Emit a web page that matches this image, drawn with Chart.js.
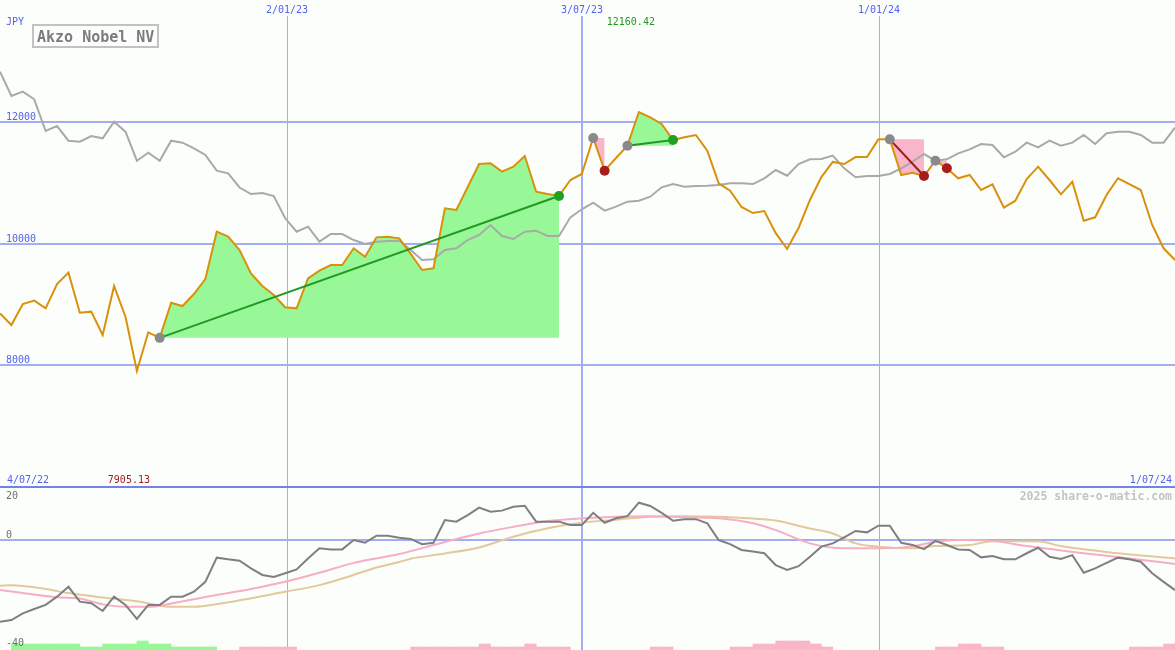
<!DOCTYPE html>
<html>
<head>
<meta charset="utf-8">
<script src="https://cdn.jsdelivr.net/npm/chart.js@4.4.1/dist/chart.umd.min.js"></script>
<style>
html,body{margin:0;padding:0;background:#fcfefc;}
#wrap{position:relative;width:1175px;height:650px;overflow:hidden;background:#fcfefc;}
#top{position:absolute;left:0;top:0;width:1175px;height:487px;}
#bot{position:absolute;left:0;top:487px;width:1175px;height:163px;}
</style>
</head>
<body>
<div id="wrap">
<canvas id="top" width="1175" height="487"></canvas>
<canvas id="bot" width="1175" height="163"></canvas>
</div>
<script>
// ---------- DATA (weekly, index 0..103) ----------
const price = [8853,8661,9006,9061,8935,9335,9521,8863,8880,8497,
  9302,8798,7905,8541,8450,9028,8973,9170,9417,10194,
  10112,9893,9510,9302,9154,8952,8935,9428,9554,9647,
  9647,9921,9783,10101,10112,10085,9830,9565,9593,10578,
  10550,10928,11306,11317,11180,11262,11437,10851,10813,10780,
  11043,11142,11733,11196,11404,11607,12160,12073,11963,11700,
  11745,11782,11525,10989,10867,10600,10500,10534,10170,9910,
  10255,10715,11092,11340,11306,11420,11420,11711,11711,11125,
  11163,11109,11360,11235,11071,11125,10879,10970,10589,10703,
  11060,11262,11043,10808,11015,10375,10430,10797,11071,10977,
  10879,10304,9921,9729];
const compare = [12822,12423,12494,12369,11848,11930,11689,11673,11766,11728,
  12001,11837,11360,11492,11360,11689,11656,11564,11454,11196,
  11153,10920,10813,10830,10780,10414,10194,10276,10030,10156,
  10156,10057,9992,10030,10040,10046,9893,9729,9740,9893,
  9921,10057,10140,10304,10123,10074,10194,10211,10123,10123,
  10430,10562,10671,10539,10605,10687,10703,10769,10923,10977,
  10933,10945,10950,10961,10989,10990,10977,11071,11207,11114,
  11306,11383,11388,11443,11235,11087,11109,11109,11142,11235,
  11344,11470,11360,11383,11481,11547,11634,11618,11416,11508,
  11656,11580,11689,11607,11656,11782,11634,11810,11837,11837,
  11782,11656,11656,11902];
const momentum = [-29.7,-29.1,-26.7,-25.1,-23.6,-20.6,-17.0,-22.4,-23.0,-25.8,
  -20.6,-23.6,-28.7,-23.6,-23.6,-20.6,-20.6,-18.8,-15.2,-6.4,
  -7.0,-7.5,-10.3,-12.7,-13.4,-12.1,-10.7,-6.7,-3.0,-3.4,
  -3.4,0.0,-1.0,1.6,1.6,0.8,0.4,-1.5,-1.0,7.3,
  6.7,9.1,11.8,10.3,10.7,12.1,12.5,6.7,6.7,6.7,
  5.5,5.5,9.9,6.3,7.9,8.7,13.6,12.4,9.9,7.0,
  7.6,7.6,6.1,0.0,-1.5,-3.6,-4.2,-4.8,-9.1,-10.9,
  -9.5,-6.1,-2.4,-1.2,1.0,3.3,2.8,5.2,5.2,-1.0,
  -1.8,-3.3,-0.3,-1.8,-3.4,-3.6,-6.3,-5.8,-7.0,-7.0,
  -4.8,-2.8,-6.1,-6.9,-5.5,-11.9,-10.3,-8.3,-6.4,-7.0,
  -7.9,-12.1,-15.2,-18.2];
const pinkAvgIdx = [0,2,5,7,9,11,13,15,18,22,25,28,31,35,39,42,45,48,51,54,57,60,63,66,68,71,74,77,80,82,84,87,90,95,99,103];
const pinkAvgVal = [-18.2,-19.3,-20.8,-21.3,-23.4,-24.3,-24.3,-23.1,-20.7,-17.8,-15.2,-11.9,-8.3,-5.1,-0.7,2.4,4.8,6.9,7.9,8.5,8.7,8.3,7.9,6.1,3.6,-1.2,-3.0,-3.0,-2.3,-0.6,0,-0.3,-2.2,-4.8,-6.7,-8.7];
const tanAvgIdx = [0,1,4,6,9,12,15,17,20,25,28,31,33,35,36,39,42,45,48,51,54,57,60,63,66,68,71,73,75,77,80,82,85,87,91,93,98,103];
const tanAvgVal = [-16.6,-16.4,-17.8,-19.3,-20.9,-22.3,-24.3,-24.3,-22.6,-18.8,-16.4,-12.7,-10.0,-8.0,-6.8,-4.9,-2.7,1.2,4.3,6.3,7.4,8.5,8.7,8.5,7.8,7.1,4.2,2.4,-1.2,-2.4,-3.0,-2.2,-1.8,-0.4,-0.4,-2.2,-4.8,-6.7];
const greenBarIdx = [1,2,3,4,5,6,7,8,9,10,11,12,13,14,15,16,17,18];
const greenBarLevel = [2,2,2,2,2,2,1,1,2,2,2,3,2,2,1,1,1,1];
const pinkBarIdx = [21,22,23,24,25,36,37,38,39,40,41,42,43,44,45,46,47,48,49,57,58,64,65,66,67,68,69,70,71,72,82,83,84,85,86,87,99,100,101,102];
const pinkBarLevel = [1,1,1,1,1,1,1,1,1,1,1,2,1,1,1,2,1,1,1,1,1,1,1,2,2,3,3,3,2,1,1,1,2,2,1,1,1,1,1,2];
const tradeStartIdx = [14,52,55,78,82];
const tradeEndIdx = [49,53,59,81,83];
const dateTickIdx = [25.15,51,77.05];
const dateTickLabels = ['2/01/23','3/07/23','1/01/24'];
const priceTicks = [8000,10000,12000];
const indTicks = [20,0,-40];
const startLabel = '4/07/22';
const endLabel = '1/07/24';
const title = 'Akzo Nobel NV';
const currency = 'JPY';
const maxLabel = '12160.42';
const minLabel = '7905.13';
const credit = '2025 share-o-matic.com';

// ---------- STYLE ----------
const C = {
  grid:'#a3adf2', sep:'#7282e6', blueText:'#5262f0', grayText:'#6e6e6e',
  orange:'#d99109', gray:'#a9a9a9', dgray:'#7f7f7f', pink:'#f7adc6', tan:'#e2c99c',
  fillGreen:'#98f898', fillPink:'#f9b5c9', trendGreen:'#229922', trendRed:'#a01818',
  mGray:'#8a8a8a', mGreen:'#22a022', mRed:'#a81c1c'
};
const vLineWidths = [1,2,1];
const mono = '"DejaVu Sans Mono", "Liberation Mono", monospace';
const XMAX = price.length - 1;

// ---------- TOP CHART ----------
const pricePts = price.map((v,i)=>({x:i,y:v}));
const comparePts = compare.map((v,i)=>({x:i,y:v}));
const topSets = [];
tradeStartIdx.forEach((s,k)=>{
  const e = tradeEndIdx[k];
  const win = price[e] > price[s];
  const pts = [];
  for (let i=s;i<=e;i++) pts.push({x:i,y:price[i]});
  topSets.push({type:'line',data:pts,fill:{value:price[s]},backgroundColor:win?C.fillGreen:C.fillPink,
    borderWidth:0,pointRadius:0,order:10});
  if (e - s > 1) {
    topSets.push({type:'line',data:[{x:s,y:price[s]},{x:e,y:price[e]}],borderColor:win?C.trendGreen:C.trendRed,
      borderWidth:2,pointRadius:0,fill:false,order:3});
  }
});
topSets.push({type:'line',data:comparePts,borderColor:C.gray,borderWidth:2,pointRadius:0,fill:false,order:8});
topSets.push({type:'line',data:pricePts,borderColor:C.orange,borderWidth:2,pointRadius:0,fill:false,order:4});
topSets.push({type:'line',showLine:false,data:tradeStartIdx.map(i=>({x:i,y:price[i]})),pointRadius:5,
  pointBackgroundColor:C.mGray,pointBorderWidth:0,order:1});
topSets.push({type:'line',showLine:false,data:tradeEndIdx.map((i,k)=>({x:i,y:price[i],win:price[i]>price[tradeStartIdx[k]]})),
  pointRadius:5,pointBorderWidth:0,
  pointBackgroundColor:(ctx)=>{const r=ctx.raw; return r && r.win ? C.mGreen : C.mRed;},order:1});

const topDecor = {
  id:'topDecor',
  beforeDatasetsDraw(chart){
    const {ctx} = chart; const xs = chart.scales.x, ys = chart.scales.y;
    ctx.save();
    ctx.fillStyle = C.grid;
    priceTicks.forEach(v=>{
      const py = Math.round(ys.getPixelForValue(v));
      ctx.fillRect(0, py-1, chart.width, 2);
    });
    dateTickIdx.forEach((v,i)=>{
      const px = Math.round(xs.getPixelForValue(v));
      const w = vLineWidths[i];
      ctx.fillRect(w===2?px-1:px, 16, w, chart.height-16);
    });
    ctx.restore();
  },
  afterDraw(chart){
    const {ctx} = chart; const xs = chart.scales.x, ys = chart.scales.y;
    ctx.save();
    ctx.fillStyle = C.sep;
    ctx.fillRect(0, chart.height-1, chart.width, 1);
    ctx.font = '10px ' + mono;
    ctx.textBaseline = 'alphabetic';
    ctx.fillStyle = C.blueText;
    ctx.textAlign = 'left';
    priceTicks.forEach(v=>{
      const py = Math.round(ys.getPixelForValue(v));
      ctx.fillText(String(v), 6, py-2);
    });
    ctx.fillText(currency, 6, 25);
    ctx.textAlign = 'center';
    dateTickIdx.forEach((v,i)=>{
      ctx.fillText(dateTickLabels[i], Math.round(xs.getPixelForValue(v)), 13);
    });
    ctx.textAlign = 'left';
    ctx.fillText(startLabel, 7, 483);
    ctx.textAlign = 'right';
    ctx.fillText(endLabel, chart.width-3, 483);
    let iMax = 0, iMin = 0;
    price.forEach((v,i)=>{ if (v>price[iMax]) iMax=i; if (v<price[iMin]) iMin=i; });
    ctx.textAlign = 'center';
    ctx.fillStyle = '#1f9a1f';
    ctx.fillText(maxLabel, xs.getPixelForValue(iMax)-8, 25);
    ctx.fillStyle = '#a01c1c';
    ctx.fillText(minLabel, xs.getPixelForValue(iMin)-8, 483);
    ctx.lineWidth = 2;
    ctx.strokeStyle = '#c2c2c2';
    ctx.strokeRect(33, 25, 125, 22);
    ctx.font = 'bold 15px ' + mono;
    ctx.fillStyle = '#7c7c7c';
    ctx.textAlign = 'left';
    ctx.fillText(title, 37, 42);
    ctx.restore();
  }
};

new Chart(document.getElementById('top'), {
  type:'line',
  data:{datasets:topSets},
  options:{
    responsive:false, animation:false, devicePixelRatio:1, events:[],
    layout:{padding:0, autoPadding:false},
    plugins:{legend:{display:false},tooltip:{enabled:false},title:{display:false}},
    elements:{line:{tension:0,borderJoinStyle:'miter'}},
    scales:{
      x:{type:'linear',min:0,max:XMAX,display:false,offset:false},
      y:{type:'linear',min:6000,max:14000,display:false}
    }
  },
  plugins:[topDecor]
});

// ---------- BOTTOM CHART ----------
const botSets = [
  {type:'bar',xAxisID:'x',yAxisID:'yh',data:greenBarIdx.map((i,k)=>({x:i+0.5,y:greenBarLevel[k]})),
    backgroundColor:C.fillGreen,borderWidth:0,barPercentage:1,categoryPercentage:1,grouped:false,order:10},
  {type:'bar',xAxisID:'x',yAxisID:'yh',data:pinkBarIdx.map((i,k)=>({x:i+0.5,y:pinkBarLevel[k]})),
    backgroundColor:C.fillPink,borderWidth:0,barPercentage:1,categoryPercentage:1,grouped:false,order:10},
  {type:'line',yAxisID:'y',data:tanAvgIdx.map((i,k)=>({x:i,y:tanAvgVal[k]})),borderColor:C.tan,borderWidth:2,
    pointRadius:0,fill:false,cubicInterpolationMode:'monotone',order:6},
  {type:'line',yAxisID:'y',data:pinkAvgIdx.map((i,k)=>({x:i,y:pinkAvgVal[k]})),borderColor:C.pink,borderWidth:2,
    pointRadius:0,fill:false,cubicInterpolationMode:'monotone',order:5},
  {type:'line',yAxisID:'y',data:momentum.map((v,i)=>({x:i,y:v})),borderColor:C.dgray,borderWidth:2,
    pointRadius:0,fill:false,tension:0,order:2}
];

const botDecor = {
  id:'botDecor',
  beforeDatasetsDraw(chart){
    const {ctx} = chart; const xs = chart.scales.x, ys = chart.scales.y;
    ctx.save();
    ctx.fillStyle = C.grid;
    const py = Math.round(ys.getPixelForValue(0));
    ctx.fillRect(0, py-1, chart.width, 2);
    dateTickIdx.forEach((v,i)=>{
      const px = Math.round(xs.getPixelForValue(v));
      const w = vLineWidths[i];
      ctx.fillRect(w===2?px-1:px, 0, w, chart.height);
    });
    ctx.restore();
  },
  afterDraw(chart){
    const {ctx} = chart; const ys = chart.scales.y;
    ctx.save();
    ctx.fillStyle = C.sep;
    ctx.fillRect(0, 0, chart.width, 1);
    ctx.font = '10px ' + mono;
    ctx.fillStyle = C.grayText;
    ctx.textAlign = 'left';
    ctx.textBaseline = 'alphabetic';
    indTicks.forEach(v=>{
      let y = Math.round(ys.getPixelForValue(v)) - 2;
      y = Math.max(12, Math.min(chart.height-4, y));
      ctx.fillText(String(v), 6, y);
    });
    ctx.font = 'bold 11.5px ' + mono;
    ctx.fillStyle = '#c3c3c3';
    ctx.textAlign = 'right';
    ctx.fillText(credit, chart.width-3, 13);
    ctx.restore();
  }
};

new Chart(document.getElementById('bot'), {
  type:'line',
  data:{datasets:botSets},
  options:{
    responsive:false, animation:false, devicePixelRatio:1, events:[],
    layout:{padding:0, autoPadding:false},
    plugins:{legend:{display:false},tooltip:{enabled:false}},
    scales:{
      x:{type:'linear',min:0,max:XMAX,display:false,offset:false},
      y:{type:'linear',min:-40,max:19.3,display:false},
      yh:{type:'linear',min:0,max:163/3,display:false}
    }
  },
  plugins:[botDecor]
});
</script>
</body>
</html>
